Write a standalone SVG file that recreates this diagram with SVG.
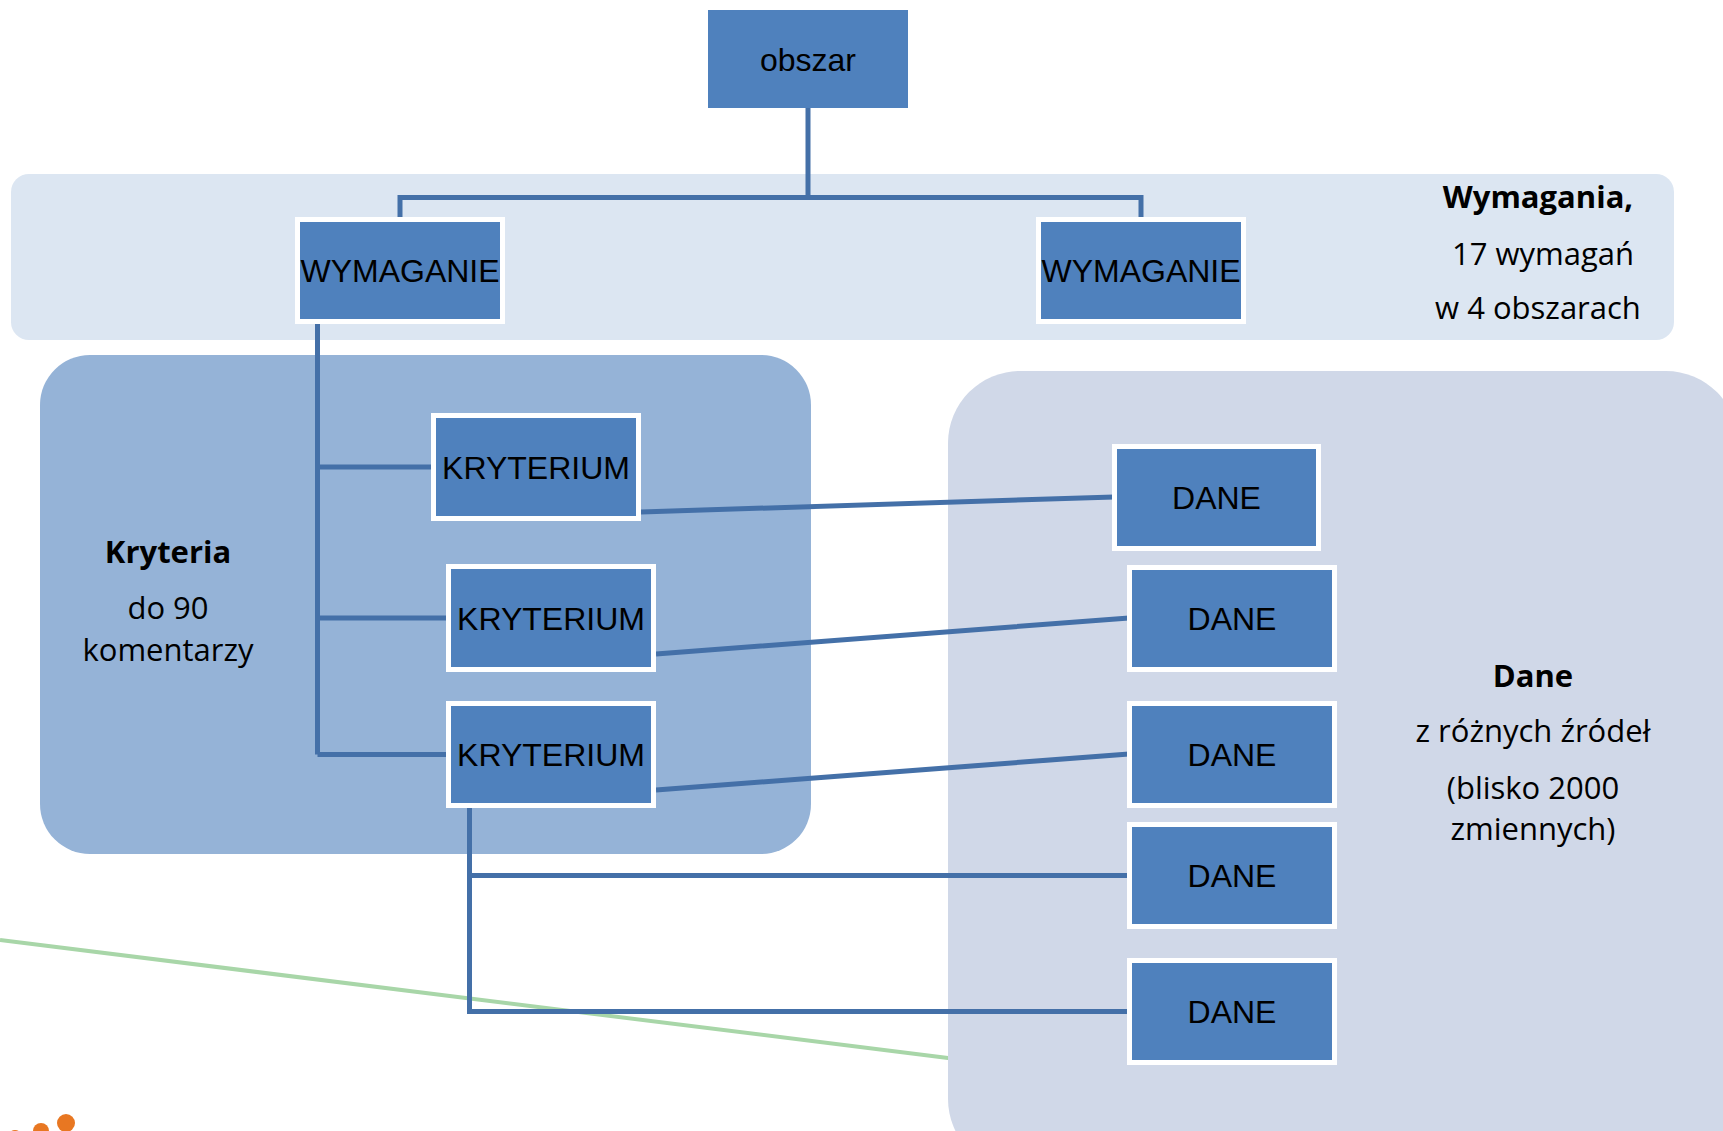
<svg xmlns="http://www.w3.org/2000/svg" width="1723" height="1131" viewBox="0 0 1723 1131">
<style>
.box{fill:#4f81bd;stroke:#ffffff;stroke-width:5}
.bl{font-family:"Liberation Sans",Arial,sans-serif;font-size:32px;fill:#000;text-anchor:middle}
.lab{font-family:"Open Sans","Noto Sans",sans-serif;font-size:31px;fill:#000;text-anchor:middle}
.b{font-weight:bold}
.con{fill:none;stroke:#4470a8;stroke-width:5}
</style>
<rect width="1723" height="1131" fill="#ffffff"/>
<g id="backgrounds">
<rect id="band-wymagania" x="11" y="174" width="1663" height="166" rx="18" fill="#dce6f2"/>
<rect id="panel-kryteria" x="40" y="355" width="771" height="499" rx="50" fill="#95b3d7"/>
<line x1="0" y1="940" x2="960" y2="1059.5" stroke="#a8d6a8" stroke-width="4"/>
<rect id="panel-dane" x="948" y="371" width="790" height="800" rx="72" fill="#d0d8e8"/>
<circle cx="15" cy="1137" r="7" fill="#e87722"/>
<circle cx="41" cy="1131" r="8" fill="#e87722"/>
<circle cx="66" cy="1123" r="9" fill="#e87722"/>
</g>
<g id="labels">
<text class="lab b" x="1538" y="208">Wymagania,</text>
<text class="lab" x="1543" y="265">17 wymagań</text>
<text class="lab" x="1538" y="319">w 4 obszarach</text>
<text class="lab b" x="168" y="563">Kryteria</text>
<text class="lab" x="168" y="619">do 90</text>
<text class="lab" x="168" y="661">komentarzy</text>
<text class="lab b" x="1533" y="687">Dane</text>
<text class="lab" x="1533" y="742">z różnych źródeł</text>
<text class="lab" x="1533" y="799">(blisko 2000</text>
<text class="lab" x="1533" y="840">zmiennych)</text>
</g>
<g id="connectors">
<path class="con" d="M808 108 V197.5 M400 217 V197.5 H1141 V217"/>
<path class="con" d="M317.5 322 V754.5 M317.5 467 H434 M317.5 618 H449 M317.5 754.5 H449"/>
<path class="con" d="M469.5 806 V1011.5 H1129 M469.5 875.5 H1129"/>
<path class="con" d="M641 512 L1114 497 M656 654 L1129 618 M656 790 L1129 754"/>
</g>
<g id="node-obszar">
<rect x="708" y="10" width="200" height="98" fill="#4f81bd"/>
<text class="bl" x="808" y="71">obszar</text>
</g>
<g id="node-wymaganie-1">
<rect class="box" x="297.5" y="219.5" width="205" height="102"/>
<text class="bl" x="400" y="282">WYMAGANIE</text>
</g>
<g id="node-wymaganie-2">
<rect class="box" x="1038.5" y="219.5" width="205" height="102"/>
<text class="bl" x="1141" y="282">WYMAGANIE</text>
</g>
<g id="node-kryterium-1">
<rect class="box" x="433.5" y="415.5" width="205" height="103"/>
<text class="bl" x="536" y="479">KRYTERIUM</text>
</g>
<g id="node-kryterium-2">
<rect class="box" x="448.5" y="566.5" width="205" height="103"/>
<text class="bl" x="551" y="630">KRYTERIUM</text>
</g>
<g id="node-kryterium-3">
<rect class="box" x="448.5" y="703.5" width="205" height="102"/>
<text class="bl" x="551" y="766">KRYTERIUM</text>
</g>
<g id="node-dane-1">
<rect class="box" x="1114.5" y="446.5" width="204" height="102"/>
<text class="bl" x="1216.5" y="509">DANE</text>
</g>
<g id="node-dane-2">
<rect class="box" x="1129.5" y="567.5" width="205" height="102"/>
<text class="bl" x="1232" y="630">DANE</text>
</g>
<g id="node-dane-3">
<rect class="box" x="1129.5" y="703.5" width="205" height="102"/>
<text class="bl" x="1232" y="766">DANE</text>
</g>
<g id="node-dane-4">
<rect class="box" x="1129.5" y="824.5" width="205" height="102"/>
<text class="bl" x="1232" y="887">DANE</text>
</g>
<g id="node-dane-5">
<rect class="box" x="1129.5" y="960.5" width="205" height="102"/>
<text class="bl" x="1232" y="1023">DANE</text>
</g>
</svg>
